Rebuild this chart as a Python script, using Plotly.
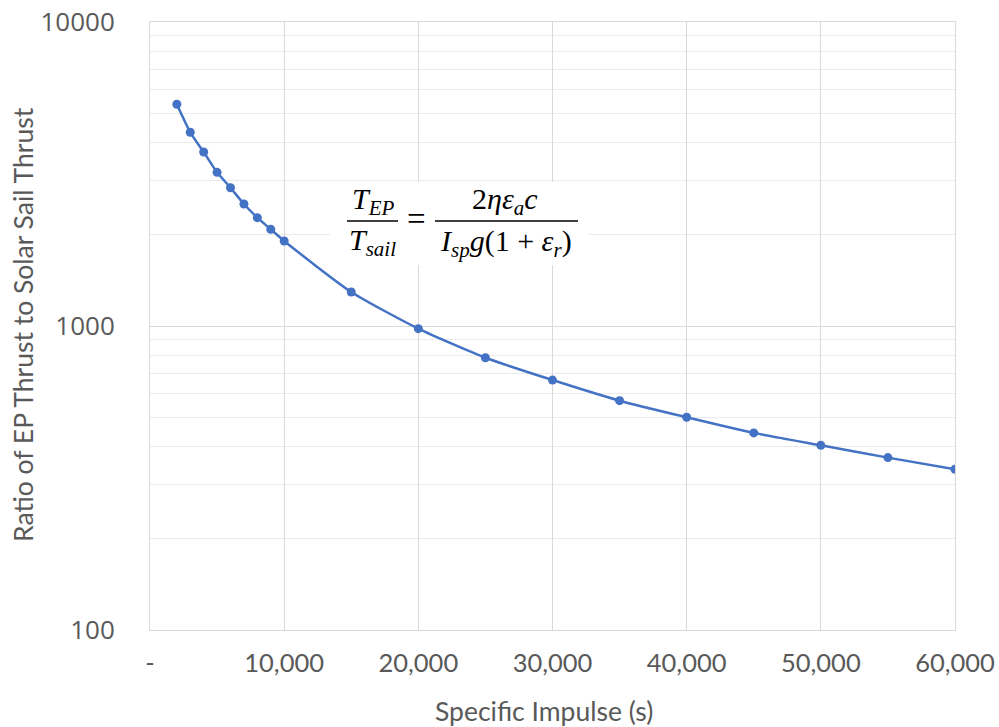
import plotly.graph_objects as go

isp = [2000, 3000, 4000, 5000, 6000, 7000, 8000, 9000, 10000,
       15000, 20000, 25000, 30000, 35000, 40000, 45000, 50000, 55000, 60000]
ratio = [5362, 4338, 3736, 3203, 2850, 2519, 2272, 2080, 1904,
         1294, 980, 786, 664, 568, 501, 445, 405, 369, 338]

x_tickvals = [0, 10000, 20000, 30000, 40000, 50000, 60000]
x_ticktext = ["-", "10,000", "20,000", "30,000", "40,000", "50,000", "60,000"]
y_tickvals = [100, 1000, 10000]
y_ticktext = ["100", "1000", "10000"]
y_minor = [200, 300, 400, 500, 600, 700, 800, 900,
           2000, 3000, 4000, 5000, 6000, 7000, 8000, 9000]

BLUE = "#4472C4"
GRID = "#d9d9d9"
TXT = "#595959"

L, R, T, B = 150, 44, 22, 97
W, H = 999, 727
PW, PH = W - L - R, H - T - B


def px(x):
    return (x - L) / PW


def py(y):
    return (H - B - y) / PH


fig = go.Figure()
fig.add_trace(go.Scatter(
    x=isp, y=ratio, mode="lines+markers",
    line=dict(color=BLUE, width=2.5, shape="spline", smoothing=0.6),
    marker=dict(color=BLUE, size=9),
    showlegend=False,
))

fig.update_layout(
    width=W, height=H,
    margin=dict(l=L, r=R, t=T, b=B, pad=0),
    paper_bgcolor="white", plot_bgcolor="white",
    font=dict(family="Lato", color=TXT),
    xaxis=dict(
        range=[0, 60000], tickvals=x_tickvals, ticktext=x_ticktext,
        showgrid=True, gridcolor=GRID, gridwidth=1, automargin=False,
        showline=True, linecolor=GRID, mirror=True, zeroline=False,
        ticks="", ticklabelstandoff=10,
        tickfont=dict(family="Lato", size=25.5, color=TXT),
    ),
    yaxis=dict(
        type="log", range=[2, 4], tickvals=y_tickvals, ticktext=y_ticktext,
        showgrid=True, gridcolor=GRID, gridwidth=1, automargin=False,
        showline=True, linecolor=GRID, mirror=True, zeroline=False,
        ticks="", ticklabelstandoff=29,
        tickfont=dict(family="Open Sans", size=26, color=TXT),
        minor=dict(tickvals=y_minor, showgrid=True, gridcolor="#ebebeb", gridwidth=1),
    ),
)

# axis titles
fig.add_annotation(text="Specific Impulse (s)", x=px(544), y=py(711), xref="paper", yref="paper",
                   showarrow=False, xanchor="center", yanchor="middle",
                   font=dict(family="Lato", size=26.5, color=TXT))
fig.add_annotation(text="Ratio of EP Thrust to Solar Sail Thrust", x=px(23), y=py(325),
                   xref="paper", yref="paper", textangle=-90,
                   showarrow=False, xanchor="center", yanchor="middle",
                   font=dict(family="Lato", size=26.5, color=TXT))


def ann(text, x, y, size=30):
    fig.add_annotation(text=text, x=px(x), y=py(y), xref="paper", yref="paper",
                       showarrow=False, xanchor="center", yanchor="middle",
                       font=dict(family="Liberation Serif", size=size, color="black"))


# white background box for equation
fig.add_shape(type="rect", xref="paper", yref="paper",
              x0=px(330), x1=px(588), y0=py(265), y1=py(182),
              fillcolor="white", line=dict(width=0), layer="above")
ann("<i>T<sub>EP</sub></i>", 373, 201)
ann("<i>T<sub>sail</sub></i>", 372, 242)
ann("=", 416, 219, 33)
ann("2<i>ηε<sub>a</sub>c</i>", 505, 201)
ann("<i>I<sub>sp</sub>g</i>(1 + <i>ε<sub>r</sub></i>)", 506, 243)
for x0, x1 in [(347, 398), (435, 578)]:
    fig.add_shape(type="line", xref="paper", yref="paper",
                  x0=px(x0), x1=px(x1), y0=py(221), y1=py(221),
                  line=dict(color="black", width=1.5), layer="above")

fig.write_html("out.html")
